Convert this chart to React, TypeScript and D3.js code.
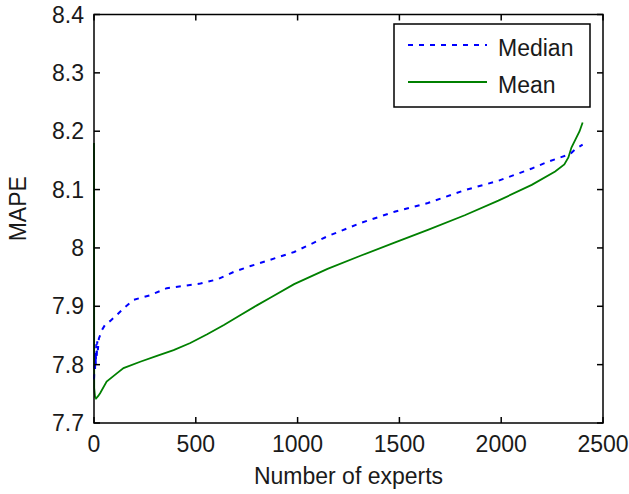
import React from "react";
import * as d3 from "d3";

// values (x = number of experts, y = MAPE)
const medianX = [0, 3, 5, 7, 9, 11, 13, 16, 19, 24, 30, 40, 54, 80, 112, 150, 194, 276, 358, 440, 523, 605, 687, 769, 860, 983, 1147, 1312, 1476, 1640, 1821, 1986, 2150, 2232, 2298, 2339, 2364, 2400];
const medianY = [7.775, 7.8, 7.79, 7.82, 7.8, 7.835, 7.81, 7.84, 7.825, 7.845, 7.85, 7.86, 7.868, 7.875, 7.885, 7.898, 7.911, 7.919, 7.931, 7.935, 7.939, 7.946, 7.959, 7.969, 7.979, 7.993, 8.02, 8.043, 8.062, 8.077, 8.099, 8.115, 8.136, 8.148, 8.156, 8.161, 8.169, 8.177];

const meanX = [0, 1, 5, 10, 20, 30, 62, 112, 145, 227, 309, 391, 473, 556, 638, 720, 802, 868, 983, 1147, 1312, 1476, 1640, 1821, 1986, 2150, 2265, 2310, 2330, 2345, 2365, 2385, 2400];
const meanY = [8.18, 7.76, 7.745, 7.742, 7.746, 7.751, 7.771, 7.785, 7.794, 7.805, 7.815, 7.825, 7.837, 7.852, 7.868, 7.885, 7.902, 7.915, 7.938, 7.964, 7.987, 8.009, 8.031, 8.056, 8.081, 8.108, 8.131, 8.143, 8.155, 8.172, 8.186, 8.2, 8.215];

const xTicks = [0, 500, 1000, 1500, 2000, 2500];
const yTicks = [7.7, 7.8, 7.9, 8, 8.1, 8.2, 8.3, 8.4];

const seriesNames = ["Median", "Mean"];

export default function App() {
  const width = 629;
  const height = 494;
  const margin = { top: 14.5, right: 26, bottom: 71, left: 94 };
  const font = "'Liberation Sans', Arial, sans-serif";
  const fs = 23;
  const tick = 6;

  const x = d3.scaleLinear().domain([0, 2500]).range([margin.left, width - margin.right]);
  const y = d3.scaleLinear().domain([7.7, 8.4]).range([height - margin.bottom, margin.top]);

  const line = d3.line<[number, number]>()
    .x(d => x(d[0]))
    .y(d => y(d[1]));

  const median = medianX.map((v, i) => [v, medianY[i]] as [number, number]);
  const mean = meanX.map((v, i) => [v, meanY[i]] as [number, number]);

  const [x0, x1] = x.range();
  const [yb, yt] = y.range();

  return (
    <svg
      width={width}
      height={height}
      style={{ position: "absolute", left: 0, top: 0, background: "#fff" }}
      fontFamily={font}
      fontSize={fs}
    >
      <rect x={0} y={0} width={width} height={height} fill="#fff" />
      <g className="plot-area">
        <path d={line(mean) || ""} fill="none" stroke="#008000" strokeWidth={1.8} />
        <path d={line(median) || ""} fill="none" stroke="#0000ff" strokeWidth={2} strokeDasharray="5,6" />
      </g>

      <g className="axes" stroke="#000" strokeWidth={1.5}>
        <rect x={x0} y={yt} width={x1 - x0} height={yb - yt} fill="none" />
        {xTicks.map(t => (
          <g key={"xt" + t}>
            <line x1={x(t)} x2={x(t)} y1={yb} y2={yb - tick} />
            <line x1={x(t)} x2={x(t)} y1={yt} y2={yt + tick} />
          </g>
        ))}
        {yTicks.map(t => (
          <g key={"yt" + t}>
            <line x1={x0} x2={x0 + tick} y1={y(t)} y2={y(t)} />
            <line x1={x1} x2={x1 - tick} y1={y(t)} y2={y(t)} />
          </g>
        ))}
      </g>

      <g className="x-axis" fill="#1a1a1a" textAnchor="middle">
        {xTicks.map(t => (
          <text key={"xl" + t} x={x(t)} y={yb + 29}>{t}</text>
        ))}
        <text x={(x0 + x1) / 2} y={484}>Number of experts</text>
      </g>
      <g className="y-axis" fill="#1a1a1a" textAnchor="end">
        {yTicks.map(t => (
          <text key={"yl" + t} x={x0 - 10} y={y(t) + 8}>{String(t)}</text>
        ))}
        <text transform={`translate(26,${(yt + yb) / 2 - 10}) rotate(-90)`} textAnchor="middle">MAPE</text>
      </g>

      <g className="legend" fill="#1a1a1a">
        <rect x={394} y={24} width={196} height={83} fill="#fff" stroke="#000" strokeWidth={1.5} />
        <line x1={408} x2={487} y1={45} y2={45} stroke="#0000ff" strokeWidth={2} strokeDasharray="5,6" />
        <line x1={408} x2={487} y1={82} y2={82} stroke="#008000" strokeWidth={1.8} />
        <text x={498} y={56}>{seriesNames[0]}</text>
        <text x={498} y={93}>{seriesNames[1]}</text>
      </g>
    </svg>
  );
}
